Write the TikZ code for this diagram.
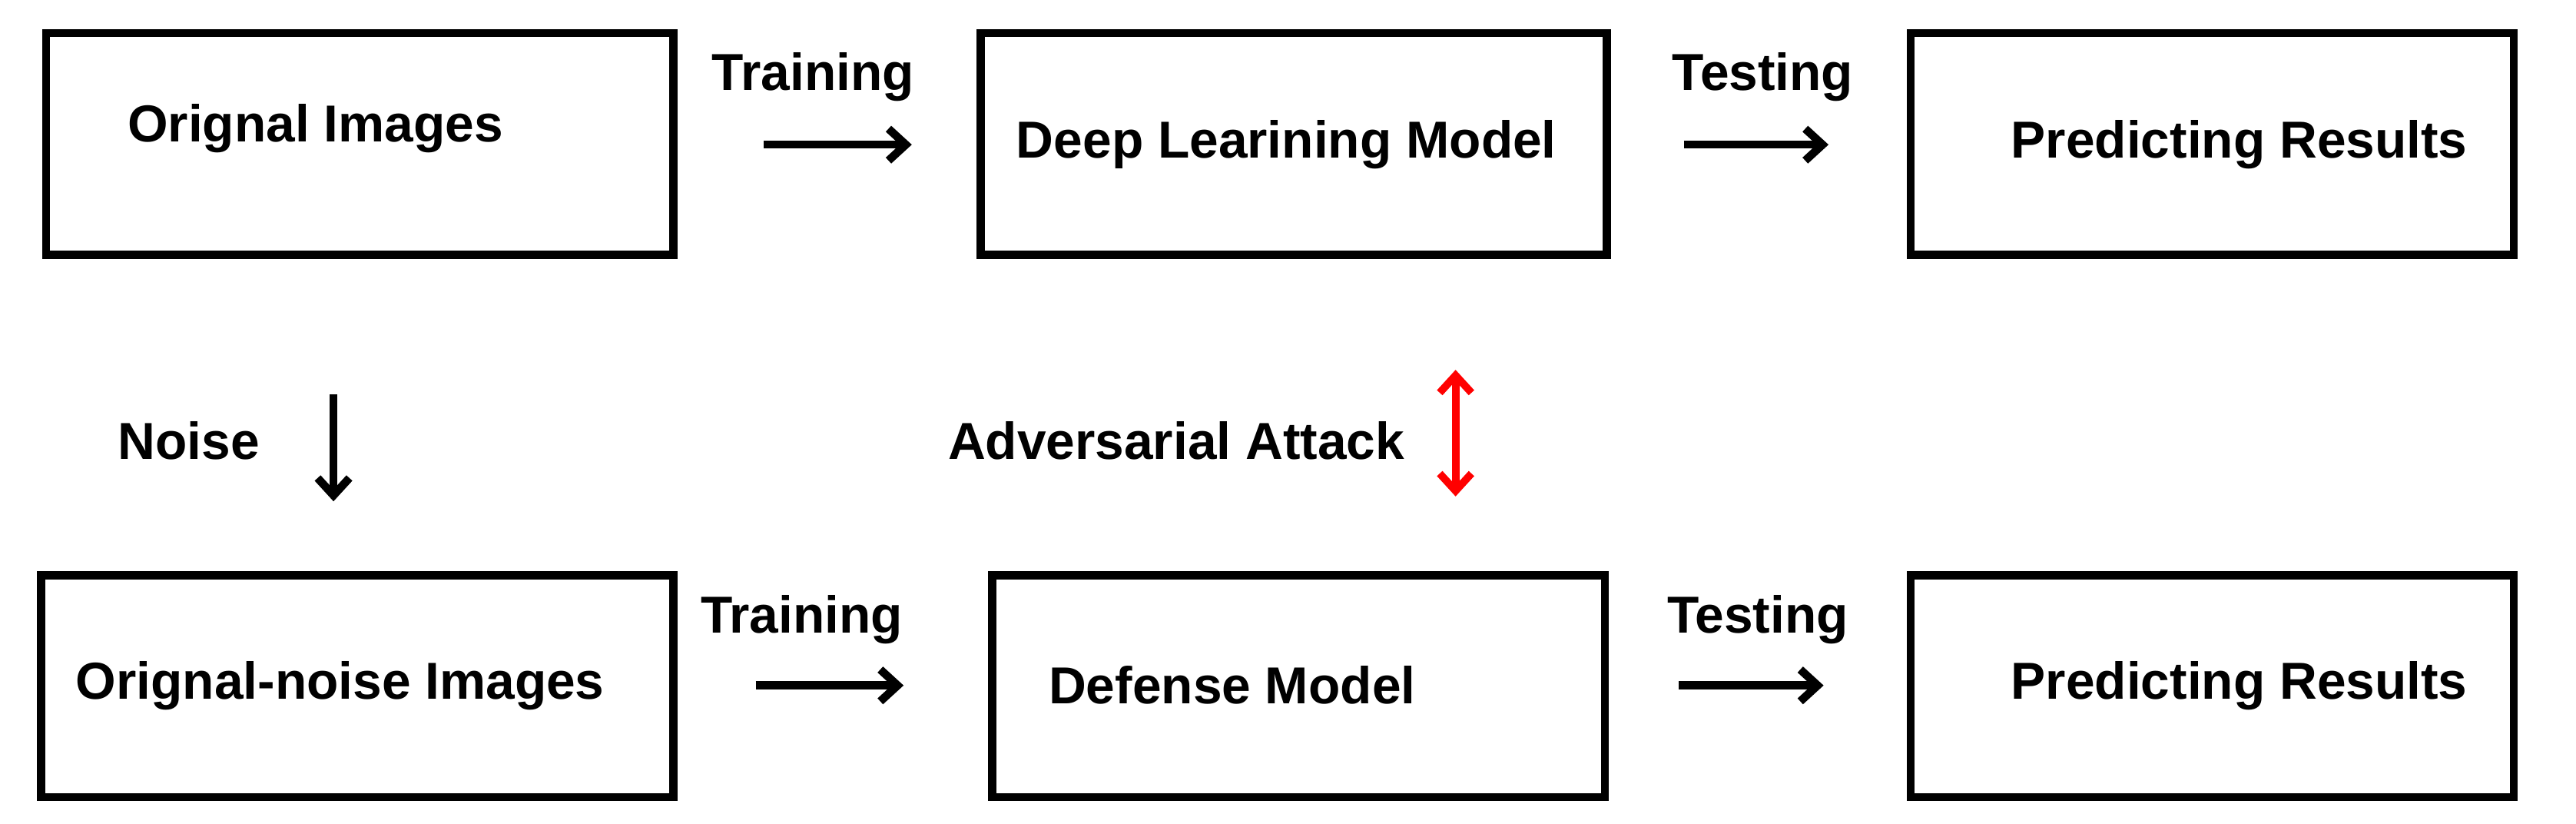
\documentclass[tikz,border=0pt]{standalone}
\usepackage{fontspec}
\setmainfont{Liberation Sans}
\usetikzlibrary{arrows.meta}
\begin{document}
\begin{tikzpicture}[x=0.2mm,y=-0.2mm,
 box/.style={draw,line width=2.8pt},
 txt/.style={font=\fontsize{18}{20}\selectfont\bfseries,inner sep=0},
 arr/.style={line width=2.8pt,-{Straight Barb[length=6pt,width=11pt]}},
 red arr/.style={line width=2.6pt,red,{Straight Barb[length=6pt,width=11pt]}-{Straight Barb[length=6pt,width=11pt]}}]
\useasboundingbox (0,0) rectangle (1568,501);
\draw[box] (28,20) rectangle (410,155);
\draw[box] (597,20) rectangle (978,155);
\draw[box] (1163,20) rectangle (1530,155);
\draw[box] (25,350) rectangle (410,485);
\draw[box] (604,350) rectangle (977,485);
\draw[box] (1163,350) rectangle (1530,485);
\node[txt] (t1) at (192,78) {Orignal Images};
\node[txt] (t2) at (783,88) {Deep Learining Model};
\node[txt] (t3) at (1363,88) {Predicting Results};
\node[txt] (t4) at (207,417) {Orignal-noise Images};
\node[txt] (t5) at (750,417) {Defense Model};
\node[txt] (t6) at (1363,417) {Predicting Results};
\node[txt] (l1) at (495,47) {Training};
\node[txt] (l2) at (1073,47) {Testing};
\node[txt] (l3) at (115,268) {Noise};
\node[txt] (l4) at (716,268) {Adversarial Attack};
\node[txt] (l5) at (488,377) {Training};
\node[txt] (l6) at (1070,377) {Testing};
\coordinate (a1) at (465,88); \coordinate (b1) at (555,88);
\coordinate (a2) at (1025,88); \coordinate (b2) at (1113,88);
\coordinate (a3) at (203,240); \coordinate (b3) at (203,305);
\coordinate (a4) at (886,225); \coordinate (b4) at (886,302);
\coordinate (a5) at (460,417); \coordinate (b5) at (550,417);
\coordinate (a6) at (1022,417); \coordinate (b6) at (1110,417);
\draw[arr] (a1) -- (b1);
\draw[arr] (a2) -- (b2);
\draw[arr] (a3) -- (b3);
\draw[red arr] (a4) -- (b4);
\draw[arr] (a5) -- (b5);
\draw[arr] (a6) -- (b6);
\end{tikzpicture}
\end{document}
